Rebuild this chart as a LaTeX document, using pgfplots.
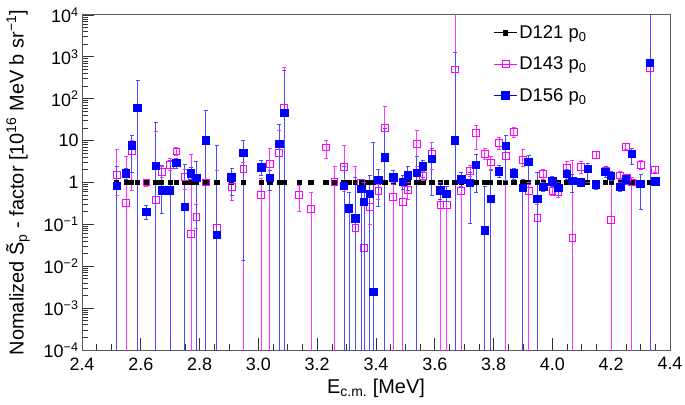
\documentclass[border=0pt]{standalone}
\usepackage{fontspec}
\setmainfont{Liberation Sans}
\usepackage{pgfplots}
\pgfplotsset{compat=1.18}
\definecolor{rmag}{RGB}{255,0,255}
\definecolor{rblue}{RGB}{0,0,255}
\pgfplotsset{
  leglines/.style={legend image code/.code={\draw[##1,sharp plot,mark repeat=2,mark phase=2] plot coordinates {(0cm,0cm)(0.4cm,0cm)(0.8cm,0cm)};}},
  ebar/.style={forget plot, line width=0.9bp, mark=-, mark size=2bp, mark options={solid}, unbounded coords=jump},
}
\begin{document}
\begin{tikzpicture}
\useasboundingbox (0,0) rectangle (685bp,405bp);
\begin{axis}[
  at={(82bp,55bp)}, anchor=south west,
  scale only axis, width=588bp, height=335bp,
  xmin=2.4, xmax=4.4, ymin=1e-4, ymax=1e4, ymode=log,
  xtick={2.4,2.6,2.8,3.0,3.2,3.4,3.6,3.8,4.0,4.2,4.4},
  xticklabels={2.4,2.6,2.8,3.0,3.2,3.4,3.6,3.8,4.0,4.2,4.4},
  minor x tick num=3,
  ytick={1e-4,1e-3,1e-2,1e-1,1,10,100,1000,10000},
  yticklabels={10\textsuperscript{−4},10\textsuperscript{−3},10\textsuperscript{−2},10\textsuperscript{−1},1,10,10\textsuperscript{2},10\textsuperscript{3},10\textsuperscript{4}},
  minor ytick={2e-4,3e-4,4e-4,5e-4,6e-4,7e-4,8e-4,9e-4,2e-3,3e-3,4e-3,5e-3,6e-3,7e-3,8e-3,9e-3,2e-2,3e-2,4e-2,5e-2,6e-2,7e-2,8e-2,9e-2,0.2,0.3,0.4,0.5,0.6,0.7,0.8,0.9,2,3,4,5,6,7,8,9,20,30,40,50,60,70,80,90,200,300,400,500,600,700,800,900,2000,3000,4000,5000,6000,7000,8000,9000},
  xtick pos=bottom, ytick pos=left, tick align=inside,
  major tick length=12bp, minor tick length=6bp,
  tick style={black!80, line width=0.8bp},
  axis line style={black!65, line width=1bp},
  tick label style={font=\fontsize{18}{20}\selectfont},
  xticklabel style={yshift=-4bp},
  xlabel={E\textsubscript{c.m.} [MeV]},
  ylabel={Nomalized \~{S}\textsubscript{p} - factor [10\textsuperscript{16} MeV b sr\textsuperscript{−1}]},
  every axis x label/.style={at={(axis description cs:0.5,-0.114)}, anchor=center, font=\fontsize{20}{22}\selectfont},
  every axis y label/.style={at={(axis description cs:-0.109,0.5)}, anchor=center, rotate=90, font=\fontsize{20}{22}\selectfont},
  legend style={draw=none, fill=none, at={(0.70,0.975)}, anchor=north west,
    font=\fontsize{18.5}{20}\selectfont, row sep=13bp, inner sep=0pt},
  legend cell align=left,
]
% D121
\addplot[black, mark=square*, mark size=2.2bp, only marks, leglines, line width=0.8bp] coordinates {
(2.518,1)(2.550,1)(2.569,1)(2.589,1)(2.619,1)(2.651,1)(2.671,1)(2.700,1)(2.721,1)(2.750,1)
(2.771,1)(2.789,1)(2.821,1)(2.859,1)(2.909,1)(2.949,1)(3.010,1)(3.039,1)(3.071,1)(3.088,1)
(3.139,1)(3.179,1)(3.230,1)(3.259,1)(3.291,1)(3.309,1)(3.330,1)(3.350,1)(3.360,1)(3.379,1)
(3.391,1)(3.408,1)(3.430,1)(3.459,1)(3.491,1)(3.508,1)(3.539,1)(3.559,1)(3.590,1)(3.619,1)
(3.640,1)(3.669,1)(3.690,1)(3.720,1)(3.740,1)(3.770,1)(3.790,1)(3.819,1)(3.841,1)(3.869,1)
(3.899,1)(3.919,1)(3.949,1)(3.969,1)(4.000,1)(4.020,1)(4.049,1)(4.068,1)(4.098,1)(4.120,1)
(4.149,1)(4.181,1)(4.200,1)(4.231,1)(4.250,1)(4.270,1)(4.300,1)(4.332,1)(4.350,1)
};
\addlegendentry{D121 p\textsubscript{0}}
% D143 error bars
\addplot[ebar, rmag!80!white] coordinates {
(2.518,0.5)(2.518,6.0)(2.518,nan)
(2.550,1e-6)(2.550,4.1)(2.550,nan)
(2.569,0.64)(2.569,10.3)(2.569,nan)
(2.619,0.8)(2.619,1.2)(2.619,nan)
(2.651,1e-6)(2.651,17)(2.651,nan)
(2.671,1.3)(2.671,2.4)(2.671,nan)
(2.700,1.9)(2.700,3.7)(2.700,nan)
(2.721,4.5)(2.721,6.7)(2.721,nan)
(2.750,0.69)(2.750,2.0)(2.750,nan)
(2.771,1e-6)(2.771,4.6)(2.771,nan)
(2.789,0.08)(2.789,0.3)(2.789,nan)
(2.821,0.85)(2.821,1.2)(2.821,nan)
(2.859,1e-6)(2.859,1.9)(2.859,nan)
(2.909,0.37)(2.909,1.25)(2.909,nan)
(2.949,1e-6)(2.949,3.0)(2.949,nan)
(3.010,1e-6)(3.010,1.26)(3.010,nan)
(3.039,1e-6)(3.039,6.5)(3.039,nan)
(3.071,1e-6)(3.071,17.9)(3.071,nan)
(3.088,1e-6)(3.088,550)(3.088,nan)
(3.139,0.2)(3.139,0.85)(3.139,nan)
(3.179,1e-6)(3.179,0.57)(3.179,nan)
(3.230,3.8)(3.230,9.9)(3.230,nan)
(3.259,1e-6)(3.259,2.4)(3.259,nan)
(3.291,0.6)(3.291,7.7)(3.291,nan)
(3.330,1e-6)(3.330,2.4)(3.330,nan)
(3.350,0.8)(3.350,1.2)(3.350,nan)
(3.360,1e-6)(3.360,0.3)(3.360,nan)
(3.379,0.1)(3.379,0.6)(3.379,nan)
(3.408,0.4)(3.408,0.9)(3.408,nan)
(3.430,4)(3.430,65)(3.430,nan)
(3.459,1e-6)(3.459,1.0)(3.459,nan)
(3.491,1e-6)(3.491,0.8)(3.491,nan)
(3.508,0.4)(3.508,1.0)(3.508,nan)
(3.539,2.4)(3.539,17.9)(3.539,nan)
(3.559,1.1)(3.559,1.8)(3.559,nan)
(3.590,2.0)(3.590,8.9)(3.590,nan)
(3.619,1e-6)(3.619,0.6)(3.619,nan)
(3.640,1e-6)(3.640,0.6)(3.640,nan)
(3.669,1e-6)(3.669,2e4)(3.669,nan)
(3.690,1e-6)(3.690,1.2)(3.690,nan)
(3.720,1.4)(3.720,2.6)(3.720,nan)
(3.740,6.2)(3.740,23.6)(3.740,nan)
(3.770,3.5)(3.770,6.5)(3.770,nan)
(3.790,2.0)(3.790,4.2)(3.790,nan)
(3.819,6)(3.819,12)(3.819,nan)
(3.841,1e-6)(3.841,7)(3.841,nan)
(3.869,12)(3.869,21)(3.869,nan)
(3.899,2.4)(3.899,6.0)(3.899,nan)
(3.919,1e-6)(3.919,1.0)(3.919,nan)
(3.949,1e-6)(3.949,0.3)(3.949,nan)
(3.969,1.2)(3.969,2.1)(3.969,nan)
(4.000,0.5)(4.000,0.8)(4.000,nan)
(4.020,0.45)(4.020,0.75)(4.020,nan)
(4.049,1.8)(4.049,3.1)(4.049,nan)
(4.068,1e-6)(4.068,3.4)(4.068,nan)
(4.098,1.66)(4.098,3.1)(4.098,nan)
(4.149,3.8)(4.149,5.5)(4.149,nan)
(4.181,1.5)(4.181,2.4)(4.181,nan)
(4.200,1e-6)(4.200,1.66)(4.200,nan)
(4.231,1.2)(4.231,1.8)(4.231,nan)
(4.250,6.0)(4.250,8.5)(4.250,nan)
(4.255,1.0)(4.255,1.6)(4.255,nan)
(4.270,1e-6)(4.270,1.3)(4.270,nan)
(4.300,2.0)(4.300,3.3)(4.300,nan)
(4.332,1e-6)(4.332,2e4)(4.332,nan)
(4.350,1.7)(4.350,2.4)(4.350,nan)
};
% D143 points
\addplot[rmag, mark=square, mark size=3.4bp, only marks, leglines, line width=0.9bp, mark options={solid, line width=0.9bp}] coordinates {
(2.518,1.5)(2.550,0.33)(2.569,5.5)(2.619,1.0)(2.651,0.38)(2.671,1.78)(2.700,2.6)(2.721,5.5)
(2.750,1.37)(2.771,0.059)(2.789,0.15)(2.821,1.0)(2.859,0.082)(2.909,0.79)(2.949,2.1)(3.010,0.5)
(3.039,2.76)(3.071,5.0)(3.088,62)(3.139,0.5)(3.179,0.23)(3.230,6.9)(3.259,1.05)(3.291,2.35)
(3.330,0.083)(3.350,1.0)(3.360,0.027)(3.379,0.26)(3.408,0.62)(3.430,20)(3.459,0.46)(3.491,0.34)
(3.508,0.66)(3.539,8.3)(3.559,1.43)(3.590,4.8)(3.619,0.29)(3.640,0.29)(3.669,500)(3.690,0.64)
(3.720,1.9)(3.740,15.5)(3.770,4.8)(3.790,3.0)(3.819,8.9)(3.841,4.4)(3.869,16)(3.899,3.45)
(3.919,0.64)(3.949,0.14)(3.969,1.6)(4.000,0.64)(4.020,0.60)(4.049,2.3)(4.068,0.047)(4.098,2.4)
(4.149,4.6)(4.181,1.9)(4.200,0.127)(4.231,1.48)(4.250,7.1)(4.255,1.26)(4.270,1.0)(4.300,2.6)
(4.332,550)(4.350,2.0)
};
\addlegendentry{D143 p\textsubscript{0}}
% D156 error bars
\addplot[ebar, rblue!70!white] coordinates {
(2.518,1e-6)(2.518,2.4)(2.518,nan)
(2.550,1.2)(2.550,2.2)(2.550,nan)
(2.569,1.75)(2.569,13)(2.569,nan)
(2.589,1e-6)(2.589,280)(2.589,nan)
(2.619,0.13)(2.619,0.29)(2.619,nan)
(2.651,1e-6)(2.651,27)(2.651,nan)
(2.671,0.18)(2.671,2.5)(2.671,nan)
(2.700,1e-6)(2.700,3.4)(2.700,nan)
(2.721,2.2)(2.721,3.7)(2.721,nan)
(2.750,1e-6)(2.750,2.7)(2.750,nan)
(2.771,1.2)(2.771,2.3)(2.771,nan)
(2.789,1e-6)(2.789,3.2)(2.789,nan)
(2.821,1e-6)(2.821,52)(2.821,nan)
(2.859,1e-6)(2.859,7.7)(2.859,nan)
(2.909,0.5)(2.909,2.2)(2.909,nan)
(2.949,0.0134)(2.949,10.3)(2.949,nan)
(3.010,1.5)(3.010,3.4)(3.010,nan)
(3.039,0.64)(3.039,1.9)(3.039,nan)
(3.071,1e-6)(3.071,24)(3.071,nan)
(3.088,1e-6)(3.088,470)(3.088,nan)
(3.291,1e-6)(3.291,2.4)(3.291,nan)
(3.309,1e-6)(3.309,0.57)(3.309,nan)
(3.330,1e-6)(3.330,1.33)(3.330,nan)
(3.350,1e-6)(3.350,1.2)(3.350,nan)
(3.360,1e-6)(3.360,1.0)(3.360,nan)
(3.379,1e-6)(3.379,1.5)(3.379,nan)
(3.391,1e-6)(3.391,8.9)(3.391,nan)
(3.408,0.275)(3.408,2.07)(3.408,nan)
(3.430,1e-6)(3.430,20)(3.430,nan)
(3.459,0.9)(3.459,1.9)(3.459,nan)
(3.491,0.7)(3.491,1.5)(3.491,nan)
(3.508,0.66)(3.508,2.4)(3.508,nan)
(3.539,1e-6)(3.539,4.1)(3.539,nan)
(3.559,1.3)(3.559,3.3)(3.559,nan)
(3.590,0.5)(3.590,6.6)(3.590,nan)
(3.619,0.4)(3.619,1.0)(3.619,nan)
(3.640,0.35)(3.640,0.8)(3.640,nan)
(3.669,1e-6)(3.669,1250)(3.669,nan)
(3.690,0.8)(3.690,1.7)(3.690,nan)
(3.720,0.106)(3.720,1.7)(3.720,nan)
(3.740,0.57)(3.740,4.7)(3.740,nan)
(3.770,1e-6)(3.770,0.8)(3.770,nan)
(3.790,1e-6)(3.790,1.9)(3.790,nan)
(3.819,1.3)(3.819,2.6)(3.819,nan)
(3.841,1.1)(3.841,13)(3.841,nan)
(3.869,1.2)(3.869,2.2)(3.869,nan)
(3.899,1e-6)(3.899,1.2)(3.899,nan)
(3.919,0.9)(3.919,4.5)(3.919,nan)
(3.949,1e-6)(3.949,1.7)(3.949,nan)
(3.969,0.6)(3.969,1.0)(3.969,nan)
(4.000,0.8)(4.000,1.4)(4.000,nan)
(4.020,0.5)(4.020,1.0)(4.020,nan)
(4.049,1.2)(4.049,2.1)(4.049,nan)
(4.068,0.57)(4.068,1.6)(4.068,nan)
(4.098,0.8)(4.098,1.25)(4.098,nan)
(4.120,1.0)(4.120,2.9)(4.120,nan)
(4.149,0.7)(4.149,1.1)(4.149,nan)
(4.181,1.3)(4.181,2.4)(4.181,nan)
(4.200,1.1)(4.200,1.8)(4.200,nan)
(4.231,0.6)(4.231,1.0)(4.231,nan)
(4.250,0.9)(4.250,1.5)(4.250,nan)
(4.270,2.76)(4.270,6.5)(4.270,nan)
(4.300,0.23)(4.300,1.55)(4.300,nan)
(4.332,1e-6)(4.332,2e4)(4.332,nan)
(4.350,0.85)(4.350,1.3)(4.350,nan)
};
% D156 points
\addplot[rblue, mark=square*, mark size=3.7bp, only marks, leglines, line width=0.9bp, mark options={solid}] coordinates {
(2.518,0.83)(2.550,1.66)(2.569,7.7)(2.589,60)(2.619,0.2)(2.651,2.5)(2.671,0.64)(2.700,0.64)
(2.721,2.9)(2.750,0.26)(2.771,1.66)(2.789,1.28)(2.821,10)(2.859,0.056)(2.909,1.33)(2.949,5.1)
(3.010,2.3)(3.039,1.28)(3.071,8.3)(3.088,46)(3.291,0.84)(3.309,0.24)(3.330,0.14)(3.350,0.70)
(3.360,0.34)(3.379,0.53)(3.391,0.0024)(3.408,1.15)(3.430,4.0)(3.459,1.33)(3.491,1.03)(3.508,1.48)
(3.539,1.7)(3.559,2.4)(3.590,3.6)(3.619,0.64)(3.640,0.53)(3.669,10)(3.690,1.19)(3.720,0.96)
(3.740,2.6)(3.770,0.071)(3.790,0.41)(3.819,1.85)(3.841,7.4)(3.869,1.66)(3.899,0.73)(3.919,3.1)
(3.949,0.40)(3.969,0.79)(4.000,1.05)(4.020,0.73)(4.049,1.6)(4.068,1.1)(4.098,1.0)(4.120,2.1)
(4.149,0.89)(4.181,1.8)(4.200,1.43)(4.231,0.79)(4.250,1.19)(4.270,4.8)(4.300,0.92)(4.332,720)
(4.350,1.05)
};
\addlegendentry{D156 p\textsubscript{0}}
\end{axis}
\end{tikzpicture}
\end{document}
